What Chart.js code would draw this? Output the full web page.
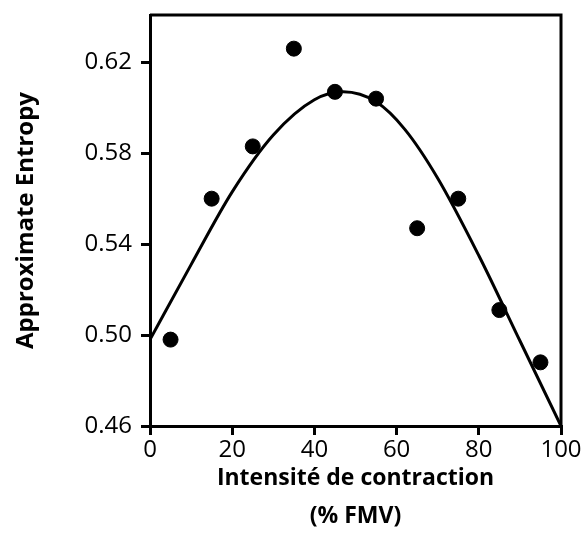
<!DOCTYPE html>
<html>
<head>
<meta charset="utf-8">
<script src="https://cdn.jsdelivr.net/npm/chart.js@4.4.0/dist/chart.umd.min.js"></script>
<style>
  html, body { margin: 0; padding: 0; background: #fff; }
</style>
</head>
<body>
<canvas id="chart" width="582" height="555"></canvas>
<script>
// measured points
const intensity = [5, 15, 25, 35, 45, 55, 65, 75, 85, 95];
const entropy = [0.498, 0.560, 0.583, 0.626, 0.607, 0.604, 0.547, 0.560, 0.511, 0.488];

// fitted curve
const fitX = [0, 10, 20, 30, 40, 47, 55, 62, 70, 80, 90, 100];
const fitY = [0.498, 0.531, 0.563, 0.588, 0.6035, 0.607, 0.6026, 0.5905, 0.569, 0.535, 0.4975, 0.460];

const xTicks = [0, 20, 40, 60, 80, 100];
const yTicks = [0.46, 0.50, 0.54, 0.58, 0.62];

const FONT = "'Open Sans', sans-serif";

// top and right edges of the box
const framePlugin = {
    id: "frame",
    afterDraw(chart) {
        const { ctx, chartArea: a } = chart;
        ctx.save();
        ctx.strokeStyle = "#000";
        ctx.lineWidth = 3;
        ctx.beginPath();
        ctx.moveTo(a.left, a.top);
        ctx.lineTo(a.right, a.top);
        ctx.lineTo(a.right, a.bottom);
        ctx.stroke();
        ctx.restore();
    },
};

const axisLine = {
    border: { display: true, color: "#000", width: 3 },
    grid: { drawOnChartArea: false, drawTicks: true, tickLength: 9, color: "#000", lineWidth: 3 },
};

new Chart(document.getElementById("chart"), {
    type: "scatter",
    data: {
        datasets: [
            {
                label: "fit",
                data: fitX.map((x, i) => ({ x: x, y: fitY[i] })),
                showLine: true,
                borderColor: "#000",
                borderWidth: 3,
                pointRadius: 0,
                cubicInterpolationMode: "monotone",
            },
            {
                label: "ApEn",
                data: intensity.map((x, i) => ({ x: x, y: entropy[i] })),
                backgroundColor: "#000",
                borderColor: "#000",
                pointRadius: 7.5,
                clip: false,
            },
        ],
    },
    options: {
        responsive: false,
        animation: false,
        layout: { padding: { top: 15, right: 21, left: 0, bottom: 0 } },
        plugins: {
            legend: { display: false },
            tooltip: { enabled: false },
        },
        scales: {
            x: {
                type: "linear",
                min: 0,
                max: 100,
                ...axisLine,
                afterBuildTicks: (s) => { s.ticks = xTicks.map((v) => ({ value: v })); },
                afterFit: (s) => { s.height = 129; s.paddingLeft = 0; s.paddingRight = 0; },
                ticks: { color: "#000", font: { family: FONT, size: 24 }, padding: 1, maxRotation: 0 },
                title: {
                    display: true,
                    text: ["Intensité de contraction", "(% FMV)"],
                    color: "#000",
                    font: { family: FONT, size: 23, weight: "bold", lineHeight: 1.65 },
                    padding: { top: 0, bottom: 20 },
                },
            },
            y: {
                type: "linear",
                min: 0.46,
                max: 0.6408,
                ...axisLine,
                afterBuildTicks: (s) => { s.ticks = yTicks.map((v) => ({ value: v })); },
                afterFit: (s) => { s.width = 150; s.paddingTop = 0; s.paddingBottom = 0; },
                ticks: {
                    color: "#000",
                    font: { family: FONT, size: 24 },
                    padding: 9,
                    callback: (v) => v.toFixed(2),
                },
                title: {
                    display: true,
                    text: "Approximate Entropy",
                    color: "#000",
                    font: { family: FONT, size: 24, weight: "bold" },
                    padding: { top: 12, bottom: 0 },
                },
            },
        },
    },
    plugins: [framePlugin],
});
</script>
</body>
</html>
